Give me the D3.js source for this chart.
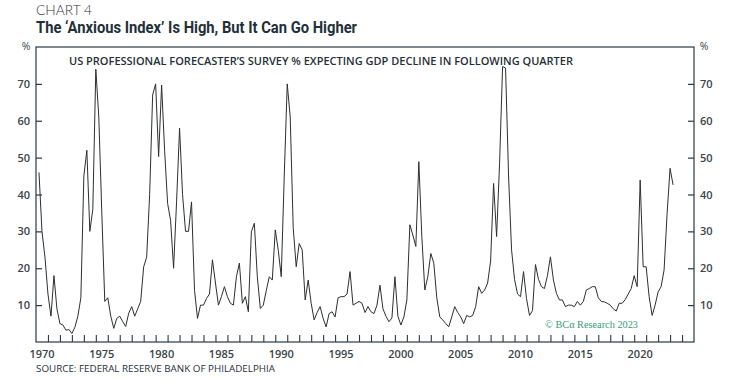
<!DOCTYPE html>
<html><head><meta charset="utf-8">
<script src="https://cdn.jsdelivr.net/npm/d3@7"></script>
<style>
html,body{margin:0;padding:0;background:#fff;}
svg{display:block;}
</style></head>
<body>
<script>
// Quarterly values starting 1970Q1 (plotted at quarter end)
const startYear = 1970;
const anxiousIndex = [
 46,30,23,13,7,18,9,5,4.6,3.2,3.4,2.3,4,7,12,45,52,30,36,74,
 61,35,11,12,7,3.7,6.4,7,5.5,4.2,7.8,9.6,7,9,11,20.4,23,40,67,70,
 50.3,69.7,52,37.6,33,20,38,58,40,30,30,38,14,6.4,10,10,11.8,13,22.3,16,
 10,12.3,15,12.3,10.5,10,17.7,21.4,10.5,12.3,8.2,29.9,32.2,17.7,9.1,10,14,17.7,16.8,30.4,
 24.9,17.7,45,70,61,31,20.4,26.7,25,11.4,16.8,10.5,6,8,9.6,6.4,4.1,7.7,8.2,6.8,
 12,12.3,12.3,13,19.1,10,10.5,11,10.5,8,9.6,8.2,7.7,10,15.4,9,7,5.5,6.5,17.7,
 7,4.6,6.8,11.4,31.8,29,25.9,48.9,28.6,14.1,17.7,24,21.4,12,6.8,6,5,4.1,6.8,9.6,
 8,6.8,5,7.2,6.8,7.2,9.6,15,13.2,14.1,16,22,43,28.6,48.5,74.7,74.3,45,25,17,
 13,12.3,19.1,11.8,7.2,8.5,21,17,15,14.5,18,23.1,16.8,13.2,11.4,11.4,9.6,10,10,9.6,
 11,10,11,14.1,14.5,15,15,12,11,10.9,10.5,10,9,8.4,10.5,10.5,11.5,13,14.5,18,
 15,43.9,20.4,20.4,12.3,7.2,10,13.6,15,19.5,34.8,47.1,42.6
];
const yTicks = [10,20,30,40,50,60,70];
const xLabelYears = [1970,1975,1980,1985,1990,1995,2000,2005,2010,2015,2020];
const xDomain = [1970, 2025];
const yDomain = [0, 80];

const W = 736, H = 380;
const M = {left:36, right:694, top:47, bottom:342};
const ink = "#2a3a42";

const svg = d3.select("body").append("svg").attr("width",W).attr("height",H);

const x = d3.scaleLinear().domain(xDomain).range([M.left, M.right]);
const y = d3.scaleLinear().domain(yDomain).range([M.bottom, M.top]);

const data = anxiousIndex.map((v,i)=>({t: startYear + (i+1)/4, v}));

// headings
svg.append("text").attr("x",36).attr("y",15)
  .attr("font-family","Lato, 'Open Sans', sans-serif").attr("font-weight",300)
  .attr("font-size",13.5).attr("fill","#333").text("CHART 4")
  .attr("textLength",56).attr("lengthAdjust","spacingAndGlyphs");
svg.append("text").attr("x",36).attr("y",33)
  .attr("font-family","'Liberation Sans Narrow', Roboto, sans-serif").attr("font-weight",700)
  .attr("font-size",16.5).attr("fill","#1f3038")
  .attr("textLength",321).attr("lengthAdjust","spacingAndGlyphs")
  .text("The \u2018Anxious Index\u2019 Is High, But It Can Go Higher");

// plot frame
svg.append("rect").attr("x",M.left).attr("y",M.top)
  .attr("width",M.right-M.left).attr("height",M.bottom-M.top)
  .attr("fill","none").attr("stroke",ink).attr("stroke-width",1.2);

// y axes
const fontAxis = "'Open Sans', 'Noto Sans', sans-serif";
const yL = svg.append("g").attr("transform",`translate(${M.left},0)`)
  .call(d3.axisLeft(y).tickValues(yTicks).tickSize(-6).tickPadding(6));
const yR = svg.append("g").attr("transform",`translate(${M.right},0)`)
  .call(d3.axisRight(y).tickValues(yTicks).tickSize(-6).tickPadding(6));
[yL,yR].forEach(g=>{
  g.select(".domain").remove();
  g.selectAll("line").attr("stroke",ink).attr("stroke-width",1.2);
  g.selectAll("text").attr("font-family",fontAxis).attr("font-size",11)
    .attr("font-weight",600).attr("fill","#3a4448");
});
svg.append("text").attr("x",26).attr("y",50).attr("text-anchor","middle")
  .attr("font-family",fontAxis).attr("font-size",10.5).attr("fill","#3a4448").text("%");
svg.append("text").attr("x",704).attr("y",50).attr("text-anchor","middle")
  .attr("font-family",fontAxis).attr("font-size",10.5).attr("fill","#3a4448").text("%");

// x axis ticks (yearly)
const xg = svg.append("g").attr("transform",`translate(0,${M.bottom})`)
  .call(d3.axisBottom(x).tickValues(d3.range(1971,2025)).tickSize(-7).tickFormat(""));
xg.select(".domain").remove();
xg.selectAll("line").attr("stroke",ink).attr("stroke-width",1.1);

// x labels centred in the year
svg.append("g").selectAll("text").data(xLabelYears).join("text")
  .attr("x",d=>x(d+0.5)).attr("y",358).attr("text-anchor","middle")
  .attr("font-family",fontAxis).attr("font-size",11).attr("font-weight",600)
  .attr("fill","#3a4448").text(d=>d);

// subtitle inside plot
svg.append("text").attr("x",69).attr("y",65)
  .attr("font-family","'Open Sans', sans-serif").attr("font-weight",600)
  .attr("font-size",10.5).attr("fill","#1f3038")
  .attr("textLength",504).attr("lengthAdjust","spacingAndGlyphs")
  .text("US PROFESSIONAL FORECASTER\u2019S SURVEY % EXPECTING GDP DECLINE IN FOLLOWING QUARTER");

// line
svg.append("path").datum(data)
  .attr("fill","none").attr("stroke","#2b2f31").attr("stroke-width",1)
  .attr("stroke-linejoin","round")
  .attr("d", d3.line().x(d=>x(d.t)).y(d=>y(d.v)));

// copyright
svg.append("text").attr("x",545).attr("y",328)
  .attr("font-family","'Liberation Serif', 'DejaVu Serif', serif")
  .attr("font-size",11).attr("fill","#3a9a78")
  .attr("textLength",93).attr("lengthAdjust","spacingAndGlyphs")
  .text("\u00A9 BC\u03B1 Research 2023");

// source
svg.append("text").attr("x",36).attr("y",372)
  .attr("font-family","'Open Sans', sans-serif").attr("font-size",9.5)
  .attr("fill","#1f3038").attr("textLength",239).attr("lengthAdjust","spacingAndGlyphs")
  .text("SOURCE: FEDERAL RESERVE BANK OF PHILADELPHIA");
</script>
</body></html>
